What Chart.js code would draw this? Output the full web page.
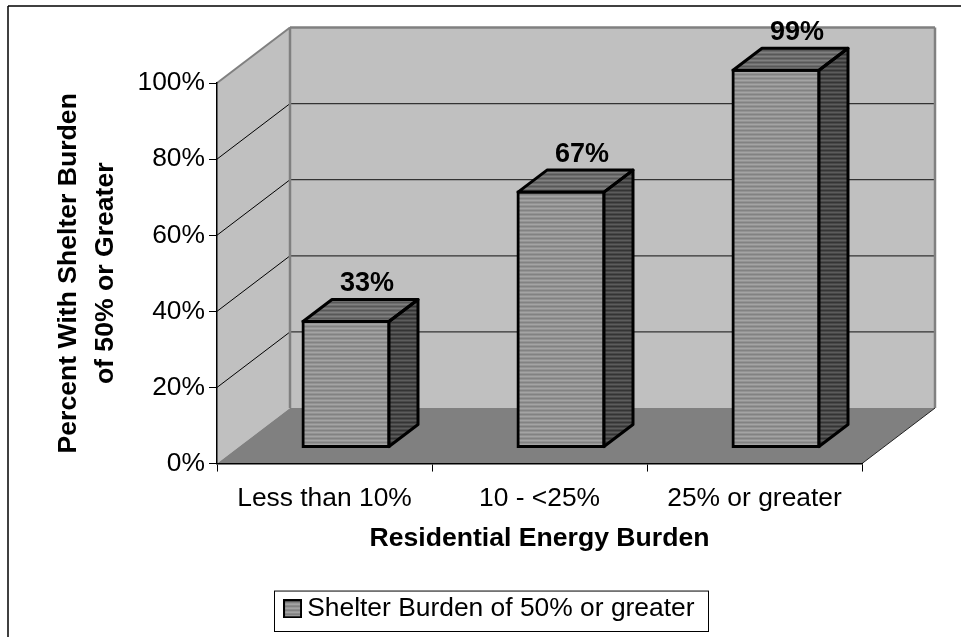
<!DOCTYPE html>
<html>
<head>
<meta charset="utf-8">
<style>
  html, body { margin: 0; padding: 0; background: #fff; }
  canvas { display: block; }
</style>
<script src="https://cdn.jsdelivr.net/npm/chart.js@4"></script>
</head>
<body>
<canvas id="chart-burden" width="961" height="637"></canvas>
<script>
const categories = ['Less than 10%', '10 - <25%', '25% or greater'];
const shelterBurden = [33, 67, 99];
const seriesName = 'Shelter Burden of 50% or greater';
const yTitle = ['Percent With Shelter Burden', 'of 50% or Greater'];
const xTitle = 'Residential Energy Burden';

const FONT = '"Liberation Sans", Arial, sans-serif';
const WALL_DEPTH = { x: 73, y: -55.5 };   // back wall relative to the axes
const BAR_SHIFT = { x: 21.5, y: -16.5 };  // bars stand in the middle of the floor
const BAR_DEPTH = { x: 29, y: -22 };

// horizontal stripes used as bar fill
function stripes(light, dark) {
  const c = document.createElement('canvas');
  c.width = 4;
  c.height = 4;
  const g = c.getContext('2d');
  g.fillStyle = light;
  g.fillRect(0, 0, 4, 2);
  g.fillStyle = dark;
  g.fillRect(0, 2, 4, 2);
  return document.createElement('canvas').getContext('2d').createPattern(c, 'repeat');
}
const frontFill = stripes('#a4a4a4', '#828282');
const topFill = stripes('#808080', '#585858');
const sideFill = stripes('#5c5c5c', '#343434');

// small striped square for the legend
function legendSwatch() {
  const c = document.createElement('canvas');
  c.width = 19;
  c.height = 19;
  const g = c.getContext('2d');
  g.fillStyle = '#000';
  g.fillRect(0, 0, 19, 19);
  g.fillStyle = frontFill;
  g.fillRect(2, 2, 15, 15);
  return c;
}

function poly(ctx, pts, fill) {
  ctx.beginPath();
  pts.forEach((p, i) => (i ? ctx.lineTo(p[0], p[1]) : ctx.moveTo(p[0], p[1])));
  ctx.closePath();
  ctx.fillStyle = fill;
  ctx.fill();
}

function seg(ctx, x1, y1, x2, y2, color, width) {
  ctx.beginPath();
  ctx.moveTo(x1, y1);
  ctx.lineTo(x2, y2);
  ctx.strokeStyle = color;
  ctx.lineWidth = width;
  ctx.stroke();
}

// outer frame, walls, floor and the grid lines that run over them
const roomPlugin = {
  id: 'room',
  beforeDraw(chart) {
    const { ctx, chartArea: a, scales: { y } } = chart;
    const dx = WALL_DEPTH.x, dy = WALL_DEPTH.y;
    const y0 = y.getPixelForValue(0), y100 = y.getPixelForValue(100);
    ctx.save();
    ctx.fillStyle = '#fff';
    ctx.fillRect(0, 0, chart.width, chart.height);
    seg(ctx, 8, 6, chart.width, 6, '#000', 1.5);
    seg(ctx, 8, 6, 8, chart.height, '#000', 1.5);

    poly(ctx, [[a.left, y0], [a.left, y100], [a.left + dx, y100 + dy], [a.left + dx, y0 + dy]], '#c0c0c0');
    poly(ctx, [[a.left + dx, y100 + dy], [a.right + dx, y100 + dy], [a.right + dx, y0 + dy], [a.left + dx, y0 + dy]], '#c0c0c0');
    poly(ctx, [[a.left, y0], [a.right, y0], [a.right + dx, y0 + dy], [a.left + dx, y0 + dy]], '#808080');

    y.ticks.forEach(t => {
      if (t.value === 0 || t.value === 100) return;
      const py = y.getPixelForValue(t.value);
      seg(ctx, a.left, py, a.left + dx, py + dy, '#000', 1);
      seg(ctx, a.left + dx, py + dy, a.right + dx, py + dy, '#333', 1.2);
    });

    seg(ctx, a.left, y100, a.left + dx, y100 + dy, '#808080', 2);
    seg(ctx, a.left + dx, y100 + dy, a.right + dx, y100 + dy, '#808080', 2.5);
    seg(ctx, a.left + dx, y100 + dy, a.left + dx, y0 + dy, '#808080', 2.5);
    seg(ctx, a.right + dx, y100 + dy, a.right + dx, y0 + dy, '#808080', 2.5);
    seg(ctx, a.right, y0, a.right + dx, y0 + dy, '#222', 1);
    ctx.restore();
  }
};

// moves the bars back on the floor, adds top and side faces and the value labels
const barsPlugin = {
  id: 'bars3d',
  beforeDatasetsDraw(chart) {
    chart.ctx.save();
    chart.ctx.translate(BAR_SHIFT.x, BAR_SHIFT.y);
  },
  afterDatasetsDraw(chart) {
    const ctx = chart.ctx;
    const bars = chart.getDatasetMeta(0).data;
    bars.forEach((bar, i) => {
      const l = bar.x - bar.width / 2, r = bar.x + bar.width / 2;
      const t = bar.y, b = bar.base;
      const dx = BAR_DEPTH.x, dy = BAR_DEPTH.y;
      const side = [[r, t], [r + dx, t + dy], [r + dx, b + dy], [r, b]];
      const top = [[l, t], [l + dx, t + dy], [r + dx, t + dy], [r, t]];
      poly(ctx, side, sideFill);
      poly(ctx, top, topFill);
      ctx.strokeStyle = '#000';
      ctx.lineWidth = 3;
      ctx.lineJoin = 'round';
      [side, top].forEach(face => {
        ctx.beginPath();
        face.forEach((p, k) => (k ? ctx.lineTo(p[0], p[1]) : ctx.moveTo(p[0], p[1])));
        ctx.closePath();
        ctx.stroke();
      });
      ctx.fillStyle = '#000';
      ctx.font = 'bold 27px ' + FONT;
      ctx.textAlign = 'center';
      ctx.textBaseline = 'middle';
      ctx.fillText(shelterBurden[i] + '%', bar.x + 21, bar.y - 37.5);
    });
    ctx.restore();
  }
};

// legend sits right of the default centre and has a thin box round it
const legendBoxPlugin = {
  id: 'legendBox',
  afterLayout(chart) {
    const lg = chart.legend;
    lg.left += 57.75;
    lg.right += 57.75;
    lg.adjustHitBoxes();
  },
  afterDraw(chart) {
    const { ctx, legend } = chart;
    ctx.save();
    ctx.strokeStyle = '#000';
    ctx.lineWidth = 1;
    ctx.strokeRect(274.5, legend.top + 0.5, 434, legend.height - 1);
    ctx.restore();
  }
};

new Chart(document.getElementById('chart-burden'), {
  type: 'bar',
  data: {
    labels: categories,
    datasets: [{
      label: seriesName,
      data: shelterBurden,
      backgroundColor: frontFill,
      borderColor: '#000',
      borderWidth: 3,
      borderSkipped: false,
      inflateAmount: 1.5,
      categoryPercentage: 1,
      barPercentage: 0.4,
      clip: false
    }]
  },
  options: {
    responsive: false,
    animation: false,
    devicePixelRatio: 1,
    layout: { padding: { left: 8, right: 99, top: 83, bottom: 5 } },
    plugins: {
      tooltip: { enabled: false },
      legend: {
        position: 'bottom',
        labels: {
          color: '#000',
          font: { family: FONT, size: 26.4 },
          usePointStyle: true,
          pointStyle: legendSwatch(),
          pointStyleWidth: 3,
          boxHeight: 19,
          padding: 5.05
        }
      }
    },
    scales: {
      x: {
        afterFit: s => { s.height = 127; },
        grid: { drawOnChartArea: false, color: '#000', lineWidth: 1, tickLength: 8 },
        border: { color: '#000', width: 1.5 },
        ticks: { color: '#000', font: { family: FONT, size: 26.4 }, padding: 11, maxRotation: 0 },
        title: { display: true, text: xTitle, color: '#000', font: { family: FONT, size: 26.6, weight: 'bold' }, padding: { top: 12, bottom: 36 } }
      },
      y: {
        min: 0,
        max: 100,
        afterFit: s => { s.width = 209; },
        grid: { drawOnChartArea: false, color: '#000', lineWidth: 1, tickLength: 8 },
        border: { color: '#000', width: 1.5 },
        ticks: { stepSize: 20, color: '#000', font: { family: FONT, size: 26.4 }, padding: 4, callback: v => v + '%' },
        title: { display: true, text: yTitle, color: '#000', font: { family: FONT, size: 26.6, weight: 'bold', lineHeight: 1.41 }, padding: { top: 41.5, bottom: 0 } }
      }
    }
  },
  plugins: [roomPlugin, barsPlugin, legendBoxPlugin]
});
</script>
</body>
</html>
